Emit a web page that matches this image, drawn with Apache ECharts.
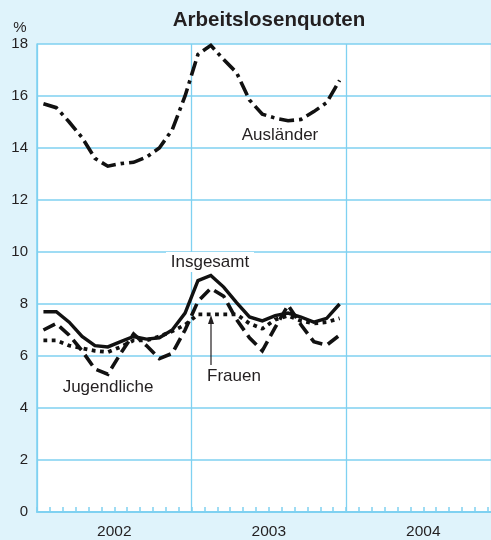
<!DOCTYPE html>
<html>
<head>
<meta charset="utf-8">
<script src="https://cdn.jsdelivr.net/npm/echarts@6/dist/echarts.min.js"></script>
<style>
html,body{margin:0;padding:0;background:#dff3fb;}
#c{width:491px;height:540px;}
</style>
</head>
<body>
<div id="c"></div>
<script>
// ---- data (monthly, Jan 2002 .. Dec 2003) ----
var years = ['2002', '2003', '2004'];
var yTicks = [0, 2, 4, 6, 8, 10, 12, 14, 16, 18];
var insgesamt   = [7.7, 7.7, 7.3, 6.75, 6.4, 6.35, 6.55, 6.75, 6.65, 6.7, 7.0, 7.65,
                   8.9, 9.1, 8.65, 8.05, 7.5, 7.35, 7.55, 7.65, 7.5, 7.3, 7.45, 8.0];
var frauen      = [6.6, 6.6, 6.4, 6.3, 6.2, 6.15, 6.35, 6.6, 6.6, 6.75, 6.95, 7.2,
                   7.6, 7.6, 7.6, 7.6, 7.25, 7.05, 7.4, 7.55, 7.35, 7.25, 7.3, 7.45];
var jugendliche = [7.0, 7.25, 6.8, 6.2, 5.5, 5.3, 6.1, 6.85, 6.4, 5.9, 6.1, 7.0,
                   8.1, 8.6, 8.3, 7.4, 6.7, 6.2, 7.1, 7.95, 7.2, 6.55, 6.42, 6.8];
var auslaender  = [15.7, 15.55, 15.0, 14.4, 13.6, 13.3, 13.4, 13.45, 13.65, 14.0, 14.7, 16.0,
                   17.6, 17.95, 17.4, 16.9, 15.85, 15.3, 15.15, 15.05, 15.1, 15.4, 15.75, 16.6];

function toPoints(arr) { return arr.map(function (v, i) { return [i + 0.5, v]; }); }

var BLUE = '#7fd1f1';
var INK = '#231f20';
var FONT = 'Liberation Sans, Arial, Helvetica, sans-serif';
var XMAX = 35.26;

var chart = echarts.init(document.getElementById('c'), null, {renderer: 'canvas'});
var option = {
  backgroundColor: '#dff3fb',
  animation: false,
  textStyle: {fontFamily: FONT},
  grid: {left: 37, right: 0, top: 44, bottom: 28, show: true, backgroundColor: '#ffffff', borderWidth: 0},
  xAxis: [{
    type: 'value', min: 0, max: XMAX, interval: 1,
    axisLine: {show: true, lineStyle: {color: BLUE, width: 2}},
    axisTick: {show: true, inside: true, length: 5, lineStyle: {color: BLUE, width: 1.5}},
    splitLine: {show: false},
    axisLabel: {
      color: INK, fontSize: 15.5, fontFamily: FONT, margin: 12, showMaxLabel: false,
      formatter: function (v) {
        var k = Math.round(v);
        if (Math.abs(v - k) < 1e-6 && k % 12 === 6) return years[(k - 6) / 12];
        return '';
      }
    }
  }, {
    type: 'value', min: 0, max: XMAX, interval: 12, position: 'bottom',
    axisLine: {show: false}, axisTick: {show: false}, axisLabel: {show: false},
    splitLine: {show: true, lineStyle: {color: BLUE, width: 1.3}}
  }],
  yAxis: {
    type: 'value', min: yTicks[0], max: yTicks[yTicks.length - 1], interval: 2,
    axisLine: {show: true, lineStyle: {color: BLUE, width: 1.5}},
    axisTick: {show: false},
    splitLine: {show: true, lineStyle: {color: BLUE, width: 1.5}},
    axisLabel: {color: INK, fontSize: 15, fontFamily: FONT, margin: 9}
  },
  series: [
    {name: 'Ausländer', type: 'line', data: toPoints(auslaender), symbol: 'none', z: 3,
     lineStyle: {color: '#111', width: 3.6, type: [15, 5, 3.5, 5], cap: 'butt', join: 'miter'}},
    {name: 'Frauen', type: 'line', data: toPoints(frauen), symbol: 'none', z: 3,
     lineStyle: {color: '#111', width: 3.8, type: [3.8, 4.5], cap: 'butt'}},
    {name: 'Jugendliche', type: 'line', data: toPoints(jugendliche), symbol: 'none', z: 3,
     lineStyle: {color: '#111', width: 3.6, type: [13, 6], cap: 'butt', join: 'miter'}},
    {name: 'Insgesamt', type: 'line', data: toPoints(insgesamt), symbol: 'none', z: 4,
     lineStyle: {color: '#111', width: 3.4, type: 'solid', join: 'miter'}}
  ],
  graphic: [
    {type: 'text', x: 269, y: 20, z: 10,
     style: {text: 'Arbeitslosenquoten', fill: INK, font: 'bold 20.5px ' + FONT, textAlign: 'center', textVerticalAlign: 'middle'}},
    {type: 'text', x: 20, y: 28, z: 10,
     style: {text: '%', fill: INK, font: '15px ' + FONT, textAlign: 'center', textVerticalAlign: 'middle'}},
    {type: 'rect', shape: {x: 166, y: 252, width: 88, height: 20}, style: {fill: '#ffffff'}, z: 5},
    {type: 'text', x: 210, y: 262, z: 10,
     style: {text: 'Insgesamt', fill: INK, font: '17px ' + FONT, textAlign: 'center', textVerticalAlign: 'middle'}},
    {type: 'text', x: 280, y: 135, z: 10,
     style: {text: 'Ausländer', fill: INK, font: '17px ' + FONT, textAlign: 'center', textVerticalAlign: 'middle'}},
    {type: 'text', x: 108, y: 387, z: 10,
     style: {text: 'Jugendliche', fill: INK, font: '17px ' + FONT, textAlign: 'center', textVerticalAlign: 'middle'}},
    {type: 'text', x: 234, y: 376, z: 10,
     style: {text: 'Frauen', fill: INK, font: '17px ' + FONT, textAlign: 'center', textVerticalAlign: 'middle'}},
    {type: 'line', shape: {x1: 211, y1: 322, x2: 211, y2: 365}, style: {stroke: INK, lineWidth: 1.2}, z: 10},
    {type: 'polygon', shape: {points: [[211, 315], [208, 324], [214, 324]]}, style: {fill: INK}, z: 10}
  ]
};
chart.setOption(option);
</script>
</body>
</html>
